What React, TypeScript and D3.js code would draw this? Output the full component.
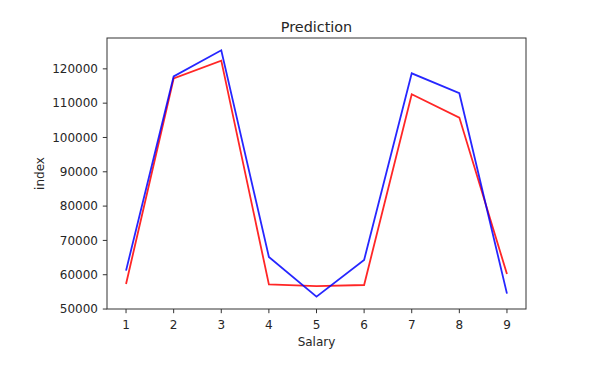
import React from "react";
import * as d3 from "d3";

// x positions (Salary) and the two series
const xValues = [1, 2, 3, 4, 5, 6, 7, 8, 9];
const actual = [57300, 117200, 122400, 57200, 56700, 57000, 112600, 105800, 60200];
const predicted = [61200, 117800, 125400, 65200, 53600, 64300, 118700, 112900, 54500];
const yTicks = [50000, 60000, 70000, 80000, 90000, 100000, 110000, 120000];

const width = 597;
const height = 372;
const margin = { top: 38, right: 71, bottom: 63, left: 107 };

const App: React.FC = () => {
  const innerWidth = width - margin.left - margin.right;
  const innerHeight = height - margin.top - margin.bottom;

  // matplotlib-style 5% autoscale margins
  const xPad = (d3.max(xValues)! - d3.min(xValues)!) * 0.05;
  const all = actual.concat(predicted);
  const yMin = d3.min(all)!;
  const yMax = d3.max(all)!;
  const yPad = (yMax - yMin) * 0.05;

  const xScale = d3
    .scaleLinear()
    .domain([d3.min(xValues)! - xPad, d3.max(xValues)! + xPad])
    .range([0, innerWidth]);

  const yScale = d3
    .scaleLinear()
    .domain([yMin - yPad, yMax + yPad])
    .range([innerHeight, 0]);

  const line = d3
    .line<number>()
    .x((_, i) => xScale(xValues[i]))
    .y((d) => yScale(d));

  const font = "'DejaVu Sans', sans-serif";
  const tickLen = 4.2;

  return (
    <svg
      width={width}
      height={height}
      style={{ position: "absolute", left: 0, top: 0, background: "white" }}
      fontFamily={font}
    >
      <g transform={`translate(${margin.left}, ${margin.top})`}>
        {/* series */}
        <path d={line(actual) ?? ""} fill="none" stroke="#ff0000" strokeOpacity={0.85} strokeWidth={1.8} />
        <path d={line(predicted) ?? ""} fill="none" stroke="#0000ff" strokeOpacity={0.85} strokeWidth={1.8} />

        {/* frame */}
        <rect
          x={0}
          y={0}
          width={innerWidth}
          height={innerHeight}
          fill="none"
          stroke="#333"
          strokeWidth={1}
        />

        {/* x ticks */}
        {xValues.map((t) => (
          <g key={`x-${t}`} transform={`translate(${xScale(t)}, ${innerHeight})`}>
            <line y1={0} y2={tickLen} stroke="#333" strokeWidth={1} />
            <text y={20} textAnchor="middle" fontSize={12} fill="#262626">
              {t}
            </text>
          </g>
        ))}

        {/* y ticks */}
        {yTicks.map((t) => (
          <g key={`y-${t}`} transform={`translate(0, ${yScale(t)})`}>
            <line x1={0} x2={-tickLen} stroke="#333" strokeWidth={1} />
            <text x={-9} dy="0.36em" textAnchor="end" fontSize={12} fill="#262626">
              {t}
            </text>
          </g>
        ))}

        <text x={innerWidth / 2} y={-6.5} textAnchor="middle" fontSize={14.4} fill="#262626">
          Prediction
        </text>
        <text x={innerWidth / 2} y={innerHeight + 37} textAnchor="middle" fontSize={12} fill="#262626">
          Salary
        </text>
        <text
          transform={`translate(${-63}, ${innerHeight / 2}) rotate(-90)`}
          textAnchor="middle"
          fontSize={12}
          fill="#262626"
        >
          index
        </text>
      </g>
    </svg>
  );
};

export default App;
